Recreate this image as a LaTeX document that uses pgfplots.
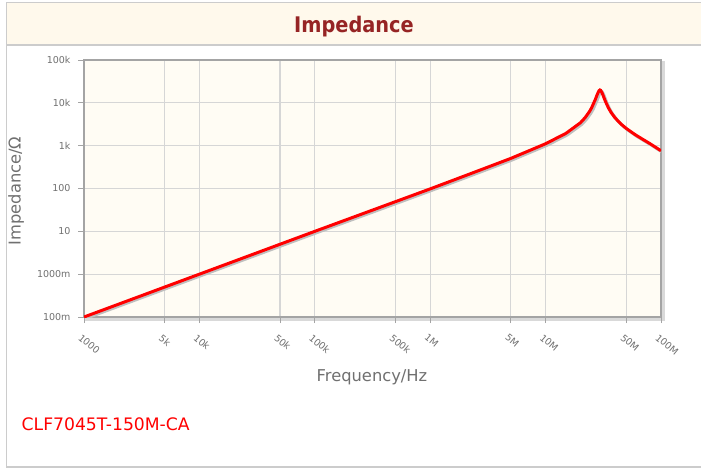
\documentclass[border=0pt]{standalone}
\usepackage{fontspec}
\setmainfont{DejaVu Sans}
\newfontfamily\titlefont{DejaVu Sans}[FakeStretch=0.9]
\usepackage{pgfplots}
\pgfplotsset{compat=1.18}
\definecolor{cream}{HTML}{FFF9EC}
\definecolor{plotbg}{HTML}{FFFCF4}
\definecolor{titlered}{HTML}{962424}
\definecolor{tickgray}{HTML}{707070}
\definecolor{framegray}{HTML}{A4A4A4}
\definecolor{gridgray}{HTML}{D6D6D6}
\begin{document}
\begin{tikzpicture}[x=1pt,y=1pt]
\useasboundingbox (0,0) rectangle (701,-471);
\fill[white] (0,0) rectangle (701,-471);
\fill[cream] (6,-3) rectangle (705,-45);
\draw[black!20, line width=1.5] (6.5,-2.5) rectangle (705,-467);
\draw[black!20, line width=1.5] (6,-45) -- (705,-45);
\node[titlered, font=\titlefont\bfseries\fontsize{21.5}{21.5}\selectfont, anchor=base] at (354,-32) {Impedance};
\draw[black!15, line width=2.5] (86,-319.5) rectangle (663.5,-62);
\begin{axis}[
  at={(84pt,-317pt)}, anchor=south west,
  scale only axis, width=577pt, height=257pt,
  xmode=log, ymode=log,
  xmin=1e3, xmax=1e8, ymin=0.1, ymax=1e5,
  xtick={1e3,5e3,1e4,5e4,1e5,5e5,1e6,5e6,1e7,5e7,1e8},
  xticklabels={1000,5k,10k,50k,100k,500k,1M,5M,10M,50M,100M},
  ytick={0.1,1,10,100,1000,1e4,1e5},
  yticklabels={100m,1000m,10,100,1k,10k,100k},
  minor tick style={draw=none}, minor grid style={draw=none},
  grid=major, major grid style={gridgray, line width=1.2pt},
  axis line style={framegray, line width=2pt},
  axis background/.style={fill=plotbg},
  tick align=outside, major tick length=6pt,
  major tick style={framegray, line width=1pt},
  xtick pos=bottom, ytick pos=left,
  tick label style={tickgray, font=\fontsize{9.5}{9.5}\selectfont},
  xticklabel style={yshift=-9pt, xshift=-2pt, rotate=-40, anchor=north west, inner sep=1pt},
  yticklabel style={anchor=east, xshift=-4pt},
  clip=true,
]
\addplot[black!25, line width=3pt, shift={(1.5pt,-1.5pt)}] coordinates {
(1e3,0.1)(1e4,1.0)(1e5,10)(1e6,98)(2e6,198)(5e6,505)(1e7,1110)(1.5e7,1940)(2e7,3418)(2.2e7,4513)(2.4e7,6270)(2.5e7,7600)(2.7e7,12080)(2.8e7,15640)(2.9e7,19190)(2.96e7,20000)(3.0e7,19640)(3.1e7,16670)(3.2e7,13330)(3.3e7,10790)(3.5e7,7655)(3.7e7,5921)(4e7,4450)(4.5e7,3194)(5e7,2523)(6e7,1790)(7e7,1390)(8e7,1120)(1e8,760)
};
\addplot[red, line width=3pt] coordinates {
(1e3,0.1)(1e4,1.0)(1e5,10)(1e6,98)(2e6,198)(5e6,505)(1e7,1110)(1.5e7,1940)(2e7,3418)(2.2e7,4513)(2.4e7,6270)(2.5e7,7600)(2.7e7,12080)(2.8e7,15640)(2.9e7,19190)(2.96e7,20000)(3.0e7,19640)(3.1e7,16670)(3.2e7,13330)(3.3e7,10790)(3.5e7,7655)(3.7e7,5921)(4e7,4450)(4.5e7,3194)(5e7,2523)(6e7,1790)(7e7,1390)(8e7,1120)(1e8,760)
};
\end{axis}
\node[tickgray, font=\fontsize{16.3}{16.3}\selectfont, anchor=base] at (372,-381) {Frequency/Hz};
\node[tickgray, font=\fontsize{16.3}{16.3}\selectfont, anchor=base, rotate=90] at (20.5,-191) {Impedance/Ω};
\node[red, font=\fontsize{17.2}{17.2}\selectfont, anchor=base west, inner sep=0pt] at (21.5,-430.5) {CLF7045T-150M-CA};
\end{tikzpicture}
\end{document}
